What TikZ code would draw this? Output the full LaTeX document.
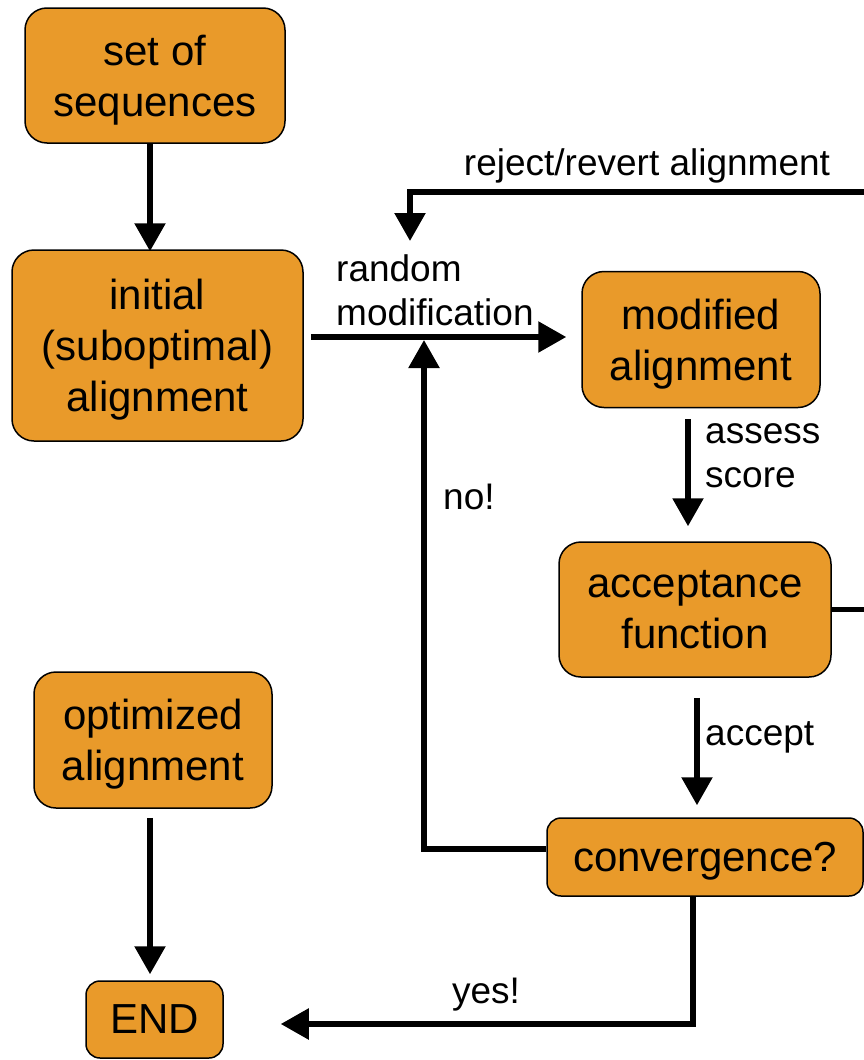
\documentclass[tikz,border=0pt]{standalone}
\usepackage{fontspec}
\setmainfont{Liberation Sans}
\usetikzlibrary{arrows.meta}
\definecolor{boxorange}{RGB}{233,154,42}
\begin{document}
\begin{tikzpicture}[x=1pt,y=-1pt,
  stage/.style={draw=black, line width=1.5pt, fill=boxorange, rounded corners=22pt,
    inner sep=0pt, align=center, text depth=0pt, font=\fontsize{42}{51}\selectfont},
  lbl/.style={inner sep=0pt, align=left, font=\fontsize{37}{44}\selectfont},
  flow/.style={line width=5.5pt, -{Triangle[length=28pt,width=30pt]}},
  wire/.style={line width=5.5pt}]
\useasboundingbox (0,0) rectangle (864,1060);
\clip (0,0) rectangle (864,1060);

% process stages
\node[stage, minimum width=260pt, minimum height=135pt] (seq)  at (155,75.5)   {set of\\sequences};
\node[stage, minimum width=291pt, minimum height=191pt] (init) at (157.5,345.5) {initial\\(suboptimal)\\alignment};
\node[stage, minimum width=238pt, minimum height=136pt] (mod)  at (701,339.5)  {modified\\alignment};
\node[stage, minimum width=272pt, minimum height=135pt] (acc)  at (695,609.5)  {acceptance\\function};
\node[stage, minimum width=316pt, minimum height=78pt, rounded corners=14pt] (conv) at (705,857) {convergence?};
\node[stage, minimum width=238pt, minimum height=136pt] (opt)  at (153,740)    {optimized\\alignment};
\node[stage, minimum width=137pt, minimum height=77pt, rounded corners=14pt] (END) at (154.5,1019.5) {END};

% free ends and bends of the loop connectors
\coordinate (rv) at (410,241);
\coordinate (topright) at (867,192);
\coordinate (jn) at (424,340);

% connectors
\draw[flow, shorten >=-2pt] ([xshift=-5pt]seq.south) -- ([xshift=-7.5pt]init.north);
\draw[flow, shorten <=7pt, shorten >=15pt] ([yshift=2.5pt]init.east |- mod.west) -- ([yshift=2.5pt]mod.west);
\draw[flow] (acc.east) -| (topright) -| (rv);
\draw[flow] ([yshift=8pt]conv.west) -| (jn);
\draw[flow, shorten <=11pt, shorten >=15pt] ([xshift=-13pt]mod.south) -- ([xshift=-7pt]acc.north);
\draw[flow, shorten <=20pt, shorten >=12pt] ([xshift=2pt]acc.south) -- ([xshift=-8pt]conv.north);
\draw[flow] ([xshift=-12pt]conv.south) |- ([xshift=57pt,yshift=-4.5pt]END.east);
\draw[flow, shorten <=9pt, shorten >=6pt] ([xshift=-3pt]opt.south) -- ([xshift=-4.5pt]END.north);

% connector labels
\node[lbl] (lrej) at (647,166) {reject/revert alignment};
\node[lbl, anchor=west] (lrand) at (336,290) {random\\modification};
\node[lbl, anchor=west] (lass) at (705,456) {assess\\score};
\node[lbl, anchor=west] (lno) at (443,497) {no!};
\node[lbl, anchor=west] (lacc) at (705,737) {accept};
\node[lbl] (lyes) at (486,995) {yes!};
\end{tikzpicture}
\end{document}
